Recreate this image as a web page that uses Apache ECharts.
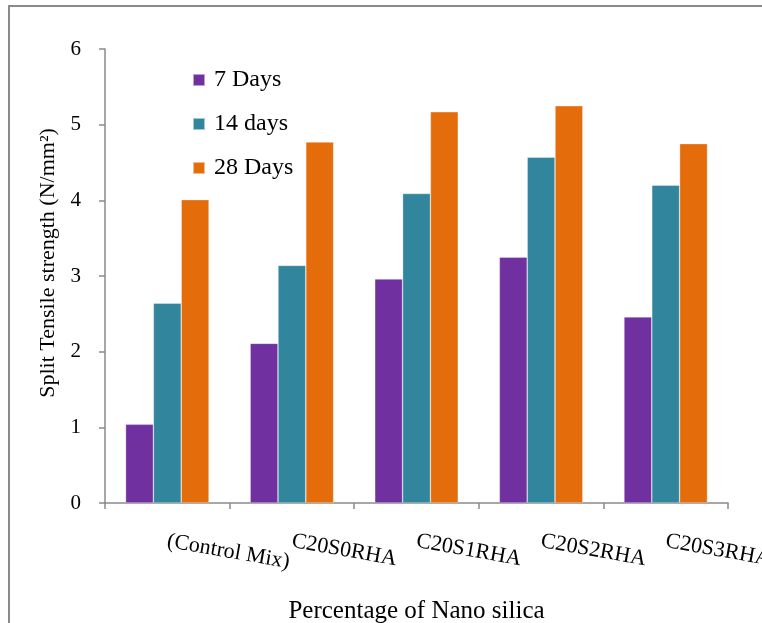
<!DOCTYPE html>
<html>
<head>
<meta charset="utf-8">
<script src="https://cdn.jsdelivr.net/npm/echarts@6/dist/echarts.min.js"></script>
<style>
  html, body { margin: 0; padding: 0; background: #fff; overflow: hidden; }
  #chart { width: 762px; height: 623px; }
</style>
</head>
<body>
<div id="chart"></div>
<script>
// Mix designations along the horizontal axis
var mixes = ['(Control Mix)', 'C20S0RHA', 'C20S1RHA', 'C20S2RHA', 'C20S3RHA'];

// Split tensile strength (N/mm²) at each curing age
var days7 = [1.04, 2.11, 2.96, 3.25, 2.46];
var days14 = [2.64, 3.14, 4.09, 4.57, 4.20];
var days28 = [4.01, 4.77, 5.17, 5.25, 4.75];

var seriesNames = ['7 Days', '14 days', '28 Days'];
var seriesColors = ['#7030A0', '#31859C', '#E46C0A'];

var serif = '"Liberation Serif", "DejaVu Serif", serif';
var axisGray = '#8a8a8a';

var chart = echarts.init(document.getElementById('chart'), null, { renderer: 'canvas' });

function barSeries(name, data, color) {
  return {
    name: name,
    type: 'bar',
    data: data,
    barGap: '0%',
    barCategoryGap: '33%',
    itemStyle: { color: color, borderColor: 'rgba(255,255,255,0.55)', borderWidth: 0.6 },
    emphasis: { disabled: true }
  };
}

chart.setOption({
  animation: false,
  backgroundColor: '#ffffff',
  graphic: [{
    type: 'rect',
    silent: true,
    shape: { x: 9, y: 6, width: 800, height: 700 },
    style: { fill: 'none', stroke: '#8a8a8a', lineWidth: 2 }
  }],
  grid: { left: 105, right: 34, top: 49, bottom: 120, containLabel: false, outerBoundsMode: 'none' },
  legend: {
    orient: 'vertical',
    left: 192,
    top: 68,
    padding: 0,
    itemWidth: 12,
    itemHeight: 12,
    itemGap: 20,
    icon: 'rect',
    data: seriesNames,
    textStyle: { fontFamily: serif, fontSize: 24, color: '#000', lineHeight: 20, padding: [0, 0, 0, 4] }
  },
  xAxis: {
    type: 'category',
    data: mixes,
    name: 'Percentage of Nano silica',
    nameLocation: 'middle',
    nameGap: 96,
    nameTextStyle: { fontFamily: serif, fontSize: 25, color: '#000', verticalAlign: 'top' },
    axisLine: { lineStyle: { color: axisGray, width: 1.5 } },
    axisTick: { show: true, length: 6, lineStyle: { color: axisGray, width: 1.5 } },
    axisLabel: {
      rotate: -10,
      margin: 38,
      interval: 0,
      fontFamily: serif,
      fontSize: 22,
      color: '#000'
    },
    splitLine: { show: false }
  },
  yAxis: {
    type: 'value',
    min: 0,
    max: 6,
    interval: 1,
    name: 'Split Tensile strength (N/mm²)',
    nameLocation: 'middle',
    nameGap: 45,
    nameRotate: 90,
    nameTextStyle: { fontFamily: serif, fontSize: 22, color: '#000', padding: [0, 0, 0, 26] },
    axisLine: { show: true, lineStyle: { color: axisGray, width: 1.5 } },
    axisTick: { show: true, length: 6, lineStyle: { color: axisGray, width: 1.5 } },
    axisLabel: { margin: 24, fontFamily: serif, fontSize: 21, color: '#000' },
    splitLine: { show: false }
  },
  series: [
    barSeries(seriesNames[0], days7, seriesColors[0]),
    barSeries(seriesNames[1], days14, seriesColors[1]),
    barSeries(seriesNames[2], days28, seriesColors[2])
  ]
});
</script>
</body>
</html>
